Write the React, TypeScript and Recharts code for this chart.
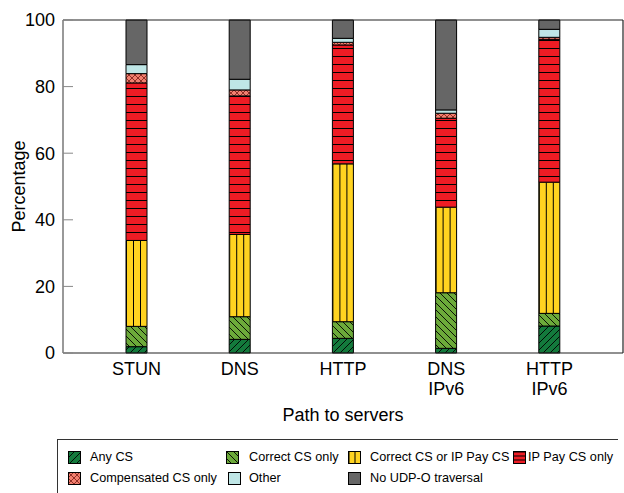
import React from "react";
import {
  BarChart,
  Bar,
  XAxis,
  YAxis,
  ReferenceLine,
} from "recharts";

const categories = ["STUN", "DNS", "HTTP", "DNS\nIPv6", "HTTP\nIPv6"];
const anyCS = [1.9, 4.1, 4.4, 1.4, 8.1];
const correctOnly = [6.1, 6.8, 5.0, 16.7, 3.8];
const correctOrIpPay = [25.8, 24.7, 47.4, 25.7, 39.4];
const ipPayOnly = [47.3, 41.6, 35.7, 26.7, 42.9];
const compensated = [2.8, 1.8, 0.8, 1.5, 0.6];
const other = [2.7, 3.2, 1.2, 1.0, 2.4];
const noTraversal = [13.4, 17.8, 5.5, 27.0, 2.8];
const yTicks = [0, 20, 40, 60, 80, 100];

const series = [
  { key: "anyCS", name: "Any CS", values: anyCS, fill: "url(#pAny)", legendFill: "url(#pAny)" },
  { key: "correctOnly", name: "Correct CS only", values: correctOnly, fill: "url(#pCorrect)", legendFill: "url(#pCorrect)" },
  { key: "correctOrIpPay", name: "Correct CS or IP Pay CS", values: correctOrIpPay, fill: "url(#pYellow)", legendFill: "url(#pYellowLegend)" },
  { key: "ipPayOnly", name: "IP Pay CS only", values: ipPayOnly, fill: "url(#pRed)", legendFill: "url(#pRedLegend)" },
  { key: "compensated", name: "Compensated CS only", values: compensated, fill: "url(#pComp)", legendFill: "url(#pComp)" },
  { key: "other", name: "Other", values: other, fill: "#bfe6e6", legendFill: "#bfe6e6" },
  { key: "noTraversal", name: "No UDP-O traversal", values: noTraversal, fill: "#666666", legendFill: "#666666" },
];

const data = categories.map((name, i) => {
  const row: Record<string, string | number> = { name };
  series.forEach((s) => {
    row[s.key] = s.values[i];
  });
  return row;
});

const FONT = '"Liberation Sans", Arial, Helvetica, sans-serif';

// legend layout, gnuplot style: [series index, swatch x, text x, row]
const legendSlots: [number, number, number, number][] = [
  [0, 10, 32, 0],
  [1, 168, 191, 0],
  [2, 290, 312, 0],
  [3, 455, 470, 0],
  [4, 10, 32, 1],
  [5, 170, 191, 1],
  [6, 290, 312, 1],
];

function XTick(props: any) {
  const { x, y, payload } = props;
  const lines = String(payload.value).split("\n");
  return (
    <text x={x} y={y} textAnchor="middle" fontSize={18} fontFamily={FONT} fill="#000">
      {lines.map((l, i) => (
        <tspan key={i} x={x} dy={i === 0 ? "0.71em" : 20}>
          {l}
        </tspan>
      ))}
    </text>
  );
}

function LeftTick(props: any) {
  const { x, y, payload } = props;
  return (
    <g>
      <line x1={x + 8} x2={x + 18} y1={y} y2={y} stroke="#888" strokeWidth={1} />
      <text x={x} y={y} dy="0.36em" textAnchor="end" fontSize={18} fontFamily={FONT} fill="#000">
        {payload.value}
      </text>
    </g>
  );
}

function RightTick(props: any) {
  const { x, y } = props;
  return <line x1={x - 10} x2={x} y1={y} y2={y} stroke="#888" strokeWidth={1} />;
}

function Patterns() {
  return (
    <svg width={0} height={0} style={{ position: "absolute" }}>
      <defs>
        <pattern id="pAny" patternUnits="userSpaceOnUse" width={7} height={7}>
          <rect width={7} height={7} fill="#137a3c" />
          <path d="M-1,1 l2,-2 M0,7 l7,-7 M6,8 l2,-2" stroke="#000" strokeWidth={0.9} />
        </pattern>
        <pattern id="pCorrect" patternUnits="userSpaceOnUse" width={7} height={7}>
          <rect width={7} height={7} fill="#6caa3a" />
          <path d="M-1,6 l2,2 M0,0 l7,7 M6,-1 l2,2" stroke="#000" strokeWidth={0.9} />
        </pattern>
        <pattern
          id="pYellow"
          patternUnits="objectBoundingBox"
          patternContentUnits="userSpaceOnUse"
          x={0}
          y={0}
          width={1 / 3}
          height={1}
        >
          <rect width={1000} height={5000} fill="#ffd320" />
          <line x1={0.5} x2={0.5} y1={0} y2={5000} stroke="#000" strokeWidth={1} />
        </pattern>
        <pattern
          id="pYellowLegend"
          patternUnits="objectBoundingBox"
          patternContentUnits="userSpaceOnUse"
          x={0}
          y={0}
          width={0.5}
          height={1}
        >
          <rect width={1000} height={5000} fill="#ffd320" />
          <line x1={0.5} x2={0.5} y1={0} y2={5000} stroke="#000" strokeWidth={1} />
        </pattern>
        <pattern id="pRed" patternUnits="userSpaceOnUse" width={10} height={8}>
          <rect width={10} height={8} fill="#ee1c24" />
          <line x1={0} x2={10} y1={0.5} y2={0.5} stroke="#000" strokeWidth={1} />
        </pattern>
        <pattern
          id="pRedLegend"
          patternUnits="objectBoundingBox"
          patternContentUnits="userSpaceOnUse"
          x={0}
          y={0}
          width={1}
          height={1 / 3}
        >
          <rect width={1000} height={5000} fill="#ee1c24" />
          <line x1={0} x2={1000} y1={0.5} y2={0.5} stroke="#000" strokeWidth={1} />
        </pattern>
        <pattern id="pComp" patternUnits="userSpaceOnUse" width={6} height={6}>
          <rect width={6} height={6} fill="#f2806f" />
          <path
            d="M-1,1 l2,-2 M0,6 l6,-6 M5,7 l2,-2 M-1,5 l2,2 M0,0 l6,6 M5,-1 l2,2"
            stroke="#7a1a14"
            strokeWidth={0.8}
          />
        </pattern>
      </defs>
    </svg>
  );
}

function ChartLegend() {
  return (
    <div
      style={{
        position: "absolute",
        left: 57,
        top: 439,
        width: 560,
        height: 54,
        borderTop: "1px solid #333",
        borderLeft: "1px solid #333",
        fontFamily: FONT,
        fontSize: 12.7,
        color: "#000",
      }}
    >
      {legendSlots.map(([si, sx, tx, row]) => {
        const s = series[si];
        const top = row === 0 ? 11 : 32;
        return (
          <React.Fragment key={s.key}>
            <svg width={13} height={13} style={{ position: "absolute", left: sx, top }}>
              <rect x={0.5} y={0.5} width={12} height={12} fill={s.legendFill} stroke="#000" strokeWidth={1} />
            </svg>
            <span style={{ position: "absolute", left: tx, top, lineHeight: "13px", whiteSpace: "nowrap" }}>{s.name}</span>
          </React.Fragment>
        );
      })}
    </div>
  );
}

export default function App() {
  return (
    <div style={{ position: "absolute", left: 0, top: 0, width: 624, height: 493, background: "#fff", overflow: "hidden" }}>
      <Patterns />
      <BarChart
        width={624}
        height={493}
        data={data}
        margin={{ top: 20, right: 0, left: 0, bottom: 70 }}
      >
        <XAxis
          dataKey="name"
          height={70}
          padding={{ left: 22, right: 22 }}
          tickLine={false}
          tickSize={0}
          tickMargin={9}
          tick={<XTick />}
          interval={0}
          axisLine={{ stroke: "#222", strokeWidth: 1.2 }}
          label={{
            content: (p: any) => {
              const vb = p.viewBox;
              return (
                <text x={vb.x + vb.width / 2} y={vb.y + 67.5} textAnchor="middle" fontSize={18} fontFamily={FONT} fill="#000">
                  Path to servers
                </text>
              );
            },
          }}
        />
        <YAxis
          width={63}
          domain={[0, 100]}
          ticks={yTicks}
          tickLine={false}
          tickSize={0}
          tickMargin={8}
          tick={<LeftTick />}
          axisLine={{ stroke: "#777", strokeWidth: 1.5 }}
          label={{
            content: (p: any) => {
              const vb = p.viewBox;
              const cx = 19;
              const cy = vb.y + vb.height / 2;
              return (
                <text
                  x={cx}
                  y={cy}
                  transform={`rotate(-90 ${cx} ${cy})`}
                  textAnchor="middle"
                  dominantBaseline="central"
                  fontSize={18}
                  fontFamily={FONT}
                  fill="#000"
                >
                  Percentage
                </text>
              );
            },
          }}
        />
        <YAxis
          yAxisId="right"
          orientation="right"
          width={1}
          domain={[0, 100]}
          ticks={yTicks}
          tickLine={false}
          tickSize={0}
          tickMargin={0}
          tick={<RightTick />}
          axisLine={{ stroke: "#222", strokeWidth: 1.2 }}
        />
        {series.map((s) => (
          <Bar
            key={s.key}
            dataKey={s.key}
            name={s.name}
            stackId="a"
            barSize={21}
            fill={s.fill}
            stroke="#000"
            strokeWidth={1}
            isAnimationActive={false}
          />
        ))}
        <ReferenceLine y={100} stroke="#222" strokeWidth={1.2} />
      </BarChart>
      <ChartLegend />
    </div>
  );
}
